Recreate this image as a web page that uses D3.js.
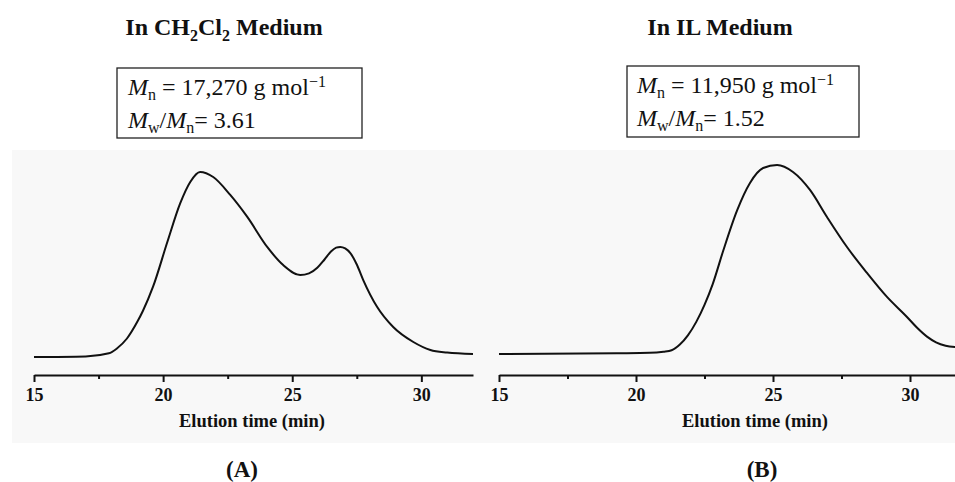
<!DOCTYPE html>
<html>
<head>
<meta charset="utf-8">
<script src="https://cdn.jsdelivr.net/npm/d3@7"></script>
<style>
  html, body { margin: 0; padding: 0; background: #fff; }
  svg { display: block; }
  text { font-family: "Liberation Serif", "Times New Roman", serif; fill: #111; }
</style>
</head>
<body>
<svg id="chart" width="955" height="482"></svg>
<script>
// GPC traces: elution time (min) vs. normalised detector response
const timeA = [15.0, 17.0, 17.9, 18.2, 18.6, 19.0, 19.22, 19.61, 20.16, 20.66, 21.05, 21.43, 21.94, 22.6, 23.26, 24.03, 24.65, 25.31, 25.65, 25.97, 26.25, 26.5, 26.7, 26.86, 27.05, 27.25, 27.5, 27.75, 28.29, 28.91, 29.69, 30.35, 31.0, 32.0];
const signalA = [0.0, 0.003, 0.02, 0.045, 0.1, 0.19, 0.25, 0.38, 0.62, 0.83, 0.946, 1.0, 0.973, 0.876, 0.757, 0.595, 0.497, 0.443, 0.452, 0.482, 0.527, 0.57, 0.591, 0.595, 0.587, 0.562, 0.5, 0.416, 0.27, 0.162, 0.081, 0.038, 0.024, 0.016];

const timeB = [15.0, 19.3, 20.5, 21.0, 21.3, 21.6, 21.9, 22.2, 22.5, 22.8, 23.18, 23.69, 24.16, 24.64, 25.15, 25.73, 26.35, 26.97, 27.7, 28.43, 29.16, 29.89, 30.25, 30.62, 30.95, 31.3, 31.65];
const signalB = [0.0, 0.004, 0.006, 0.012, 0.02, 0.05, 0.1, 0.17, 0.26, 0.37, 0.545, 0.76, 0.905, 0.984, 1.0, 0.963, 0.868, 0.725, 0.566, 0.429, 0.302, 0.196, 0.14, 0.092, 0.062, 0.044, 0.037];

const majorTicks = [15, 20, 25, 30];
const minorTicks = [17.5, 22.5, 27.5];
const xDomain = [15, 32];

const svg = d3.select("#chart");

// faint grey backdrop behind both plots
svg.append("rect").attr("x", 12).attr("y", 150).attr("width", 943).attr("height", 293).attr("fill", "#f8f8f8");

const panels = [
  { t: timeA, v: signalA, x0: 34, x1: 473, yBase: 357, yTop: 172, axisY: 375,
    title: [["In CH", null], ["2", "sub"], ["Cl", null], ["2", "sub"], [" Medium", null]],
    titleX: 224,
    box: { x: 117, y: 68, w: 245, h: 70 }, textX: 128, mn: "17,270", pdi: "3.61",
    axisTitleX: 252, label: "(A)", labelX: 242 },
  { t: timeB, v: signalB, x0: 499, x1: 499 + 17 * 27.4, yBase: 354, yTop: 165, axisY: 375,
    title: [["In IL Medium", null]],
    titleX: 720,
    box: { x: 627, y: 66, w: 232, h: 71 }, textX: 637, mn: "11,950", pdi: "1.52",
    axisTitleX: 755, label: "(B)", labelX: 762 }
];

panels.forEach(p => {
  const x = d3.scaleLinear().domain(xDomain).range([p.x0, p.x1]);
  const y = d3.scaleLinear().domain([0, 1]).range([p.yBase, p.yTop]);
  const g = svg.append("g");

  // panel heading
  const tt = g.append("text").attr("x", p.titleX).attr("y", 35)
    .attr("text-anchor", "middle").attr("font-weight", "bold").attr("font-size", 24);
  p.title.forEach(([s, kind]) => {
    const ts = tt.append("tspan").text(s);
    if (kind === "sub") ts.attr("font-size", 16).attr("dy", 6);
    else if (tt.selectAll("tspan").size() > 1) ts.attr("dy", -6);
  });

  // molecular weight box
  g.append("rect").attr("x", p.box.x).attr("y", p.box.y).attr("width", p.box.w).attr("height", p.box.h)
    .attr("fill", "#fff").attr("stroke", "#222").attr("stroke-width", 1.3);
  const l1 = g.append("text").attr("x", p.textX).attr("y", p.box.y + 27).attr("font-size", 24);
  l1.append("tspan").attr("font-style", "italic").text("M");
  l1.append("tspan").attr("font-size", 16).attr("dy", 5).text("n");
  l1.append("tspan").attr("dy", -5).text(" = " + p.mn + " g mol");
  l1.append("tspan").attr("font-size", 16).attr("dy", -8).text("\u22121");
  const l2 = g.append("text").attr("x", p.textX).attr("y", p.box.y + 60).attr("font-size", 24);
  l2.append("tspan").attr("font-style", "italic").text("M");
  l2.append("tspan").attr("font-size", 16).attr("dy", 5).text("w");
  l2.append("tspan").attr("dy", -5).text("/");
  l2.append("tspan").attr("font-style", "italic").text("M");
  l2.append("tspan").attr("font-size", 16).attr("dy", 5).text("n");
  l2.append("tspan").attr("dy", -5).text("= " + p.pdi);

  // chromatogram trace
  const pts = p.t.map((t, i) => [t, p.v[i]]);
  g.append("path").datum(pts)
    .attr("fill", "none").attr("stroke", "#111").attr("stroke-width", 2)
    .attr("d", d3.line().x(d => x(d[0])).y(d => y(d[1])).curve(d3.curveMonotoneX));

  // x axis with major and minor ticks
  const ax = g.append("g").attr("transform", `translate(0,${p.axisY})`);
  ax.call(d3.axisBottom(x).tickValues(majorTicks).tickSize(7).tickSizeOuter(0).tickPadding(6));
  ax.append("g").call(d3.axisBottom(x).tickValues(minorTicks).tickSize(4).tickFormat(""))
    .select(".domain").remove();
  ax.selectAll(".domain").attr("stroke", "#111").attr("stroke-width", 2);
  ax.selectAll(".tick line").attr("stroke", "#111").attr("stroke-width", 2);
  ax.selectAll(".tick text").attr("font-weight", "bold").attr("font-size", 18).attr("fill", "#111");

  g.append("text").attr("x", p.axisTitleX).attr("y", 427).attr("text-anchor", "middle")
    .attr("font-weight", "bold").attr("font-size", 18.5).text("Elution time (min)");

  g.append("text").attr("x", p.labelX).attr("y", 477).attr("text-anchor", "middle")
    .attr("font-weight", "bold").attr("font-size", 23).text(p.label);
});
</script>
</body>
</html>
